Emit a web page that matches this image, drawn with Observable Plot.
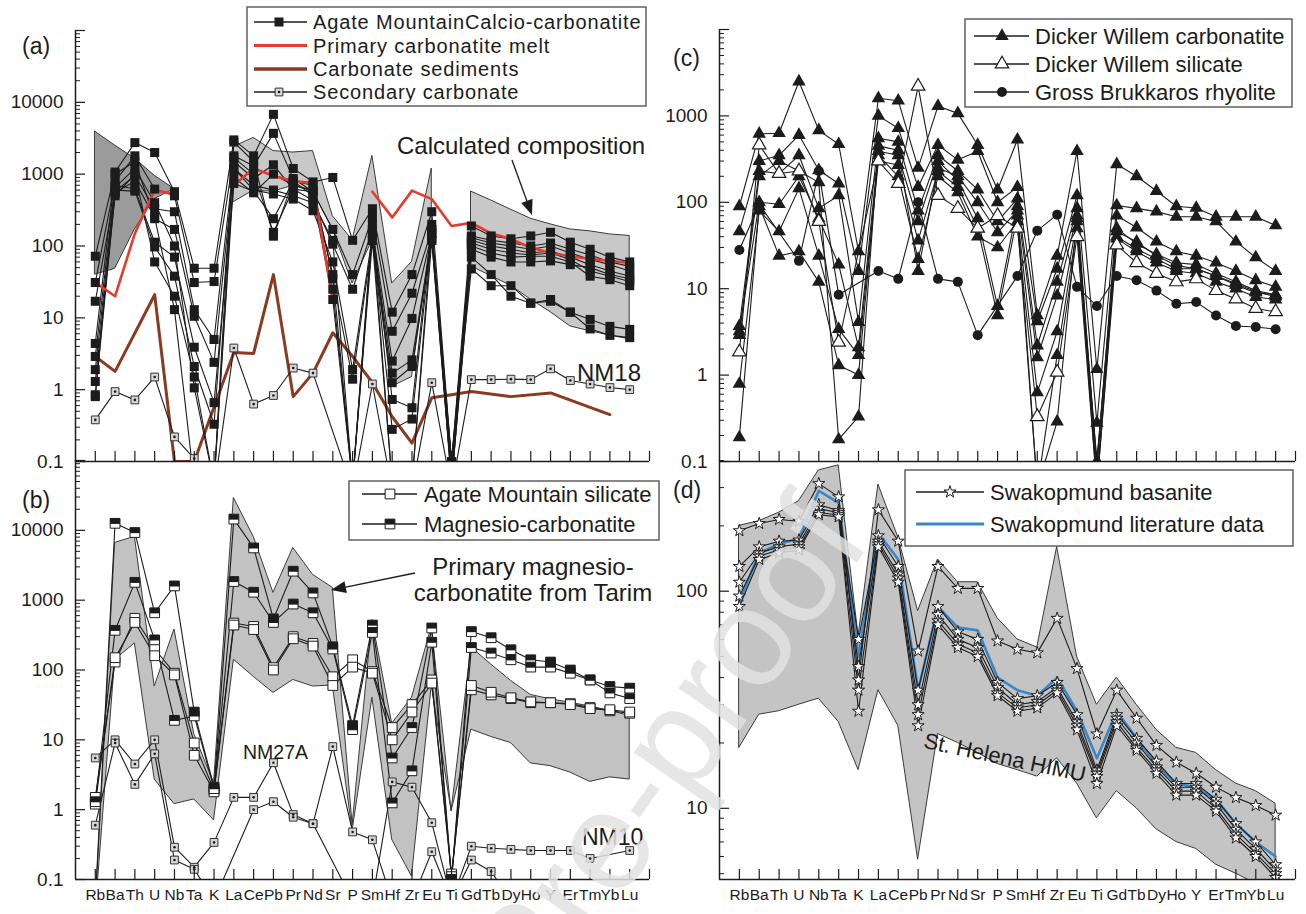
<!DOCTYPE html>
<html>
<head>
<meta charset="utf-8">
<script src="https://cdn.jsdelivr.net/npm/d3@7"></script>
<script src="https://cdn.jsdelivr.net/npm/@observablehq/plot@0.6"></script>
<style>
  html, body { margin: 0; padding: 0; background: #fff; }
  body { position: relative; width: 1306px; height: 914px; overflow: hidden; font-family: "Liberation Sans", Arial, sans-serif; }
  .panel { position: absolute; }
  #overlay { position: absolute; left: 0; top: 0; pointer-events: none; }
</style>
</head>
<body>
<div id="pa" class="panel" style="left:0;top:0"></div>
<div id="pb" class="panel" style="left:0;top:440px"></div>
<div id="pc" class="panel" style="left:640px;top:0"></div>
<div id="pd" class="panel" style="left:640px;top:440px"></div>
<script>
// Trace elements in spider-diagram order
const elements = ["Rb","Ba","Th","U","Nb","Ta","K","La","Ce","Pb","Pr","Nd","Sr","P","Sm","Hf","Zr","Eu","Ti","Gd","Tb","Dy","Ho","Y","Er","Tm","Yb","Lu"];

// ---- (a) Agate Mountain calcio-carbonatite ----
const calcioCarbonatite = [
  [72, 1070, 2750, 2000, 570, 49, 49, 3000, 1800, 6800, 1200, 780, 900, 120, 330, 12, 40, 300, 0.1, 190, 138, 126, 138, 155, 113, 90, 70, 60],
  [31, 800, 1800, 620, 500, 31, 32, 1800, 1300, 3700, 870, 570, 170, 40, 250, 6.5, 22, 170, 0.09, 138, 120, 110, 100, 110, 90, 75, 60, 52],
  [17, 570, 960, 330, 300, 13, 5, 1500, 870, 1350, 620, 430, 106, 25, 170, 2.5, 9.8, 150, 0.08, 130, 110, 100, 90, 100, 80, 65, 55, 45],
  [4.4, 1000, 1500, 240, 170, 10.5, 2.4, 1200, 600, 530, 450, 310, 60, 1.9, 140, 1.7, 2.6, 130, 0.1, 120, 100, 90, 80, 85, 70, 55, 45, 38],
  [2.9, 700, 620, 113, 70, 3.9, 0.66, 740, 580, 240, 800, 700, 35, 1.4, 120, 1.25, 2.1, 120, 0.06, 110, 90, 80, 75, 80, 65, 45, 38, 32],
  [1.9, 600, 580, 97, 38, 2.1, 0.33, 1700, 1000, 155, 620, 570, 25, 0.05, 200, 0.73, 0.56, 200, 0.05, 100, 80, 70, 72, 72, 60, 38, 34, 28],
  [1.3, 500, 1000, 60, 20, 1.5, 0.05, 2800, 1500, 137, 800, 500, 18, 0.05, 150, 0.28, 0.39, 150, 0.05, 90, 70, 60, 60, 62, 55, 50, 40, 35],
  [0.85, 650, 1200, 400, 100, 1.06, 0.05, 1200, 700, 600, 500, 400, 120, 0.05, 170, 0.05, 0.05, 170, 0.1, 48, 28, 28, 16, 18, 12, 9.5, 7.6, 6.9],
  [0.8, 550, 800, 250, 13, 0.05, 0.05, 900, 550, 1000, 700, 600, 40, 0.05, 120, 0.05, 0.05, 120, 0.05, 70, 40, 20, 16, 17, 12, 7, 5.7, 5.3]
];
const secondaryNM18 = [0.38, 0.94, 0.72, 1.5, 0.22, 0.11, 0.04, 3.8, 0.63, 0.83, 2.0, 1.7, null, 0.04, 1.2, 0.04, 0.04, 1.25, 0.04, 1.38, 1.38, 1.4, 1.38, 1.95, 1.34, 1.2, 1.07, 1.0];
const primaryMelt = [31, 20, 150, 600, 520, null, null, 700, 1200, 950, 800, 750, 17, null, 570, 250, 590, 450, 190, 210, 150, 125, 95, 80, 72, 66, 62, 58];
const carbonateSediments = [2.9, 1.8, null, 21, 0.1, 0.1, null, 3.3, 3.2, 40, 0.8, 1.7, 6.2, 2.9, 1.25, 0.42, 0.18, 0.77, 0.85, 0.94, null, 0.8, null, 0.9, null, null, 0.45, null];
const calculatedHigh = [3900, 2500, 1650, 950, 620, null, null, 2400, 3200, 2100, 2000, 2100, 260, 120, 1800, 30, 60, 1200, null, 570, 430, 320, 240, 200, 170, 160, 145, 138];
const calculatedLow  = [40, 48, 170, 450, 620, null, null, 410, 590, 570, 690, 570, 170, 30, 120, 1.1, 1.5, 150, null, 52, 38, 28, 18, 12, 7.6, 6.5, 5.7, 5];

// ---- (b) Agate Mountain silicate and magnesio-carbonatite ----
const magnesioCarbonatite = [
  [0.05, 12600, 9300, 660, 1600, 25, 2.1, 14500, 5600, 540, 2600, 1270, 215, 16, 440, 5.5, 15, 400, 0.1, 355, 290, 195, 140, 130, 100, 72, 58, 55],
  [1.3, 370, 1800, 270, 19, 22, 2.0, 1850, 1300, 480, 880, 660, 200, 14, 345, 1.25, 3.6, 250, 0.1, 210, 175, 140, 110, 110, 90, 72, 47, 39]
];
const agateSilicate = [
  [1.5, 130, 550, 200, 90, 9, 1.9, 470, 420, 108, 300, 240, 80, 140, 95, 15, 32, 72, 0.12, 52, 44, 39, 34, 34, 33, 29, 26, 24],
  [1.2, 150, 480, 160, 85, 6, 1.8, 440, 380, 100, 280, 220, 60, 110, 90, 10, 25, 65, 0.11, 60, 48, 40, 35, 34, 32, 28, 27, 25]
];
const secondaryB = [
  [5.5, 10, 4.5, 10, 0.29, 0.15, 0.34, 1.5, 1.5, 4.7, 0.85, 0.63, 8, 0.48, 0.37, 0.05, 0.05, 0.25, 0.05, 0.19, 0.13, 0.05, null, null, null, null, null, null],
  [0.6, 9, 2.3, 6.3, 0.19, 0.14, 0.05, null, 1.0, 1.3, 0.78, 0.63, null, 0.05, 0.05, 2.5, 2.1, 0.65, 0.05, 0.3, 0.28, 0.27, 0.26, 0.26, 0.26, 0.2, null, 0.26]
];
const tarimHigh = [0.03, 6600, 8100, 58, 380, 12, 2.4, 29000, 8100, 1270, 5600, 2300, 1500, 0.6, 520, 17, 40, 420, 0.95, 210, 120, 70, 44, 38, 34, 30, 26, 22];
const tarimLow  = [0.03, 140, 240, 2.7, 1.2, 1.4, 0.7, 140, 80, 47, 72, 58, 60, 0.5, 40, 0.37, 0.11, 60, 0.95, 14, 11, 9, 4.6, 4.2, 3.4, 2.5, 2.9, 2.7];

// ---- (c) Dicker Willem and Gross Brukkaros ----
const dwCarbonatite = [
  [90, 620, 630, 2500, 680, 470, 27, 1600, 1500, 250, 1300, 1070, 460, 140, 530, 4.9, 24, 390, 1.17, 275, 200, 135, 90, 86, 68, 68, 68, 54],
  [46, 300, 350, 600, 235, 165, 16, 1000, 720, 150, 460, 310, 390, 100, 150, 4.2, 17, 120, 0.28, 92, 85, 78, 68, 68, 60, 35, 23, 16],
  [3.7, 230, 215, 350, 85, 120, 4.1, 550, 500, 80, 350, 230, 140, 60, 110, 2.2, 12, 85, 0.08, 70, 51, 35, 27, 24, 20, 16, 12.5, 10.5],
  [3.2, 100, 95, 200, 65, 19, 2.1, 390, 350, 60, 300, 180, 65, 6.3, 90, 1.6, 8.3, 70, 0.06, 46, 35, 24, 18.5, 17, 14, 11.5, 9.2, 8.1],
  [0.79, 80, 46, 145, 24, 3.4, 1.7, 300, 270, 36, 230, 150, 50, 4.9, 70, 0.63, 3.2, 60, 0.05, 40, 29, 22, 17, 17, 14, 11, 9, 8.5],
  [0.19, 90, 24, 27, 12, 1.3, 1.0, 350, 200, 22, 200, 130, 40, 30, 60, 0.05, 1.7, 50, 0.1, 38, 27, 20, 16, 15, 12, 10, 8, 7.5],
  [2.9, 200, 300, 230, 170, 0.18, 0.33, 450, 400, 16, 250, 200, 100, 45, 80, 0.05, 0.29, 65, 0.1, 50, 33, 25, 20, 19, 15, 12, 9.5, 8.5]
];
const dwSilicate = [
  [1.85, 460, 215, 230, 60, 2.4, null, 300, 165, 2200, 120, 85, 50, 70, 50, 0.33, 1.08, 40, 0.05, 32, 20, 15, 12, 13, 9.5, 7.6, 5.9, 5.4]
];
const gbRhyolite = [
  [28, 95, null, 21, 230, 8.5, null, 16, 13, 100, 13, 12, 2.9, null, 14, 47, 72, 10.5, 6.3, 14, 12.5, 9.5, 6.7, 7, 4.9, 3.7, 3.6, 3.4]
];

// ---- (d) Swakopmund and St. Helena HIMU ----
const swakBasanite = [
  [190, 205, 214, 210, 313, 272, 39, 237, 170, 53, 130, 103, 103, 59, 54, 52, 75, 44, 22, 35, 26, 19.5, 16.3, 14.5, 12.5, 11.2, 10.3, 9.3],
  [130, 160, 170, 172, 250, 235, 60, 180, 130, 35, 85, 65, 60, 38, 32, 33, 38, 27, 15, 27, 21, 16.5, 13, 13, 11, 8.5, 7, 5.5],
  [110, 150, 160, 165, 240, 230, 45, 170, 120, 30, 78, 60, 55, 36, 30, 31, 36, 25, 14.5, 26, 20, 15.5, 12.5, 12.5, 10.5, 8, 6.5, 5.2],
  [95, 145, 155, 160, 230, 225, 35, 165, 115, 27, 73, 57, 52, 34, 29, 30, 35, 24, 14, 25, 19, 15, 12, 12, 10, 7.6, 6.2, 5],
  [85, 140, 150, 155, 225, 220, 28, 160, 110, 24, 70, 55, 50, 33, 28, 29, 34, 23, 13, 24, 18.5, 14.5, 11.5, 11.5, 9.7, 7.3, 6, 4.8]
];
const swakLiterature = [90, 150, 165, 175, 290, 255, 50, 185, 140, 35, 85, 68, 66, 40, 35, 33, 40, 28, 17, 28, 21, 16, 13, 12.5, 11, 8.5, 7, 6];
const helenaHigh = [200, 210, 230, 260, 360, 380, 62, 310, 177, 81, 140, 110, 110, 75, 60, 55, 160, 50, 30, 40, 30, 23, 19, 18, 15, 13, 12, 10.5];
const helenaLow  = [19, 27, 28, 30, 32, 25, 15, 35, 24, 5.8, 22, 20, 18, 16, 15, 14, 17, 13, 9, 12, 10, 8, 7, 6.5, 5.5, 5, 4.5, 4.3];

// Axis labels
const yLabelsAB = [0.1, 1, 10, 100, 1000, 10000];
const yLabelsC = [0.1, 1, 10, 100, 1000];
const yLabelsD = [10, 100];

const FONT = '"Liberation Sans", Arial, sans-serif';
const INK = "#1c1c1c";

// long-format rows; missing values are skipped (line joins neighbours) or kept as gaps
function rows(list, gaps = false) {
  const out = [];
  list.forEach((vals, s) => vals.forEach((v, i) => {
    if (v == null) { if (gaps) out.push({s, i, v: NaN}); return; }
    out.push({s, i, v});
  }));
  return out;
}
// band rows split into separate pieces wherever the field is missing
function bandRows(hi, lo) {
  const out = []; let piece = 0, prevNull = false;
  hi.forEach((h, i) => {
    if (h == null || lo[i] == null) { if (!prevNull) piece++; prevNull = true; return; }
    prevNull = false;
    out.push({i, hi: h, lo: lo[i], piece});
  });
  return out;
}
function logTicks(lo, hi) {
  const major = [], minor = [];
  for (let e = Math.floor(Math.log10(lo)) - 1; e <= Math.ceil(Math.log10(hi)); e++) {
    for (let k = 1; k <= 9; k++) {
      const v = +(k * Math.pow(10, e)).toPrecision(3);
      if (v < lo * 0.999 || v > hi * 1.001) continue;
      (k === 1 ? major : minor).push(v);
    }
  }
  return {major, minor};
}

// custom marker: black upper half of a square
const halfTop = {draw(ctx, size) { const w = Math.sqrt(size) / 2; ctx.moveTo(-w, -w); ctx.lineTo(w, -w); ctx.lineTo(w, 0.6); ctx.lineTo(-w, 0.6); ctx.closePath(); }};

function panel(id, cfg) {
  const {width, height, mT, mB, mL, mR, domain, yLabels, xLabels, marks} = cfg;
  const fw = width - mL - mR, fh = height - mT - mB;
  const {major, minor} = logTicks(domain[0], domain[1]);
  const chart = Plot.plot({
    width, height, marginTop: mT, marginBottom: mB, marginLeft: mL, marginRight: mR,
    style: {background: "transparent", overflow: "visible", fontFamily: FONT, color: INK},
    x: {type: "linear", domain: [-1, elements.length], axis: null},
    y: {type: "log", domain, axis: null},
    marks: [
      ...marks,
      Plot.ruleY([domain[0]], {stroke: INK, strokeWidth: 1.5}),
      Plot.ruleX([-1], {stroke: INK, strokeWidth: 1.5}),
      Plot.tickX(d3.range(elements.length + 1), {x: d => d, insetTop: fh - 10, stroke: INK, strokeWidth: 1.2}),
      Plot.tickY(major, {y: d => d, insetRight: fw - 10, stroke: INK, strokeWidth: 1.2}),
      Plot.tickY(minor, {y: d => d, insetRight: fw - 5, stroke: INK, strokeWidth: 1}),
      Plot.axisY(yLabels, {tickSize: 0, tickPadding: 12, tickFormat: d => String(d), fontSize: 19, label: null}),
      xLabels ? Plot.axisX(d3.range(elements.length), {tickSize: 0, tickPadding: 9, tickFormat: i => elements[i], fontSize: 15.5, label: null}) : null
    ]
  });
  document.getElementById(id).append(chart);
}

const XY = {x: "i", y: "v"};
const LINE = {...XY, z: "s", stroke: INK, strokeWidth: 1.1, clip: true};

// (a)
const bandA = bandRows(calculatedHigh, calculatedLow);
panel("pa", {
  width: 660, height: 470, mT: 30, mB: 9, mL: 75, mR: 11, domain: [0.1, 1e5], yLabels: yLabelsAB,
  marks: [
    Plot.areaY(bandA.filter(d => d.i <= 4), {x: "i", y1: "lo", y2: "hi", z: "piece", fill: "#9b9b9b", stroke: "#3a3a3a", strokeWidth: 1, clip: true}),
    Plot.areaY(bandA.filter(d => d.i >= 7), {x: "i", y1: "lo", y2: "hi", z: "piece", fill: "#c8c8c8", stroke: "#3a3a3a", strokeWidth: 1, clip: true}),
    Plot.line(rows([carbonateSediments]), {...XY, stroke: "#8b3a20", strokeWidth: 3, clip: true}),
    Plot.line(rows(calcioCarbonatite), LINE),
    Plot.line(rows([secondaryNM18]), LINE),
    Plot.line(rows([primaryMelt], true), {...XY, stroke: "#e8392e", strokeWidth: 2.6, clip: true}),
    Plot.dot(rows(calcioCarbonatite), {...XY, symbol: "square", r: 5.1, fill: INK, clip: true}),
    Plot.dot(rows([secondaryNM18]), {...XY, symbol: "square", r: 4.4, fill: "#d6d6d6", stroke: "#333", strokeWidth: 1, clip: true}),
    Plot.dot(rows([secondaryNM18]), {...XY, r: 1.3, fill: INK, clip: true})
  ]
});

// (b)
panel("pb", {
  width: 660, height: 474, mT: 20, mB: 35, mL: 75, mR: 11, domain: [0.1, 1e5], yLabels: yLabelsAB, xLabels: true,
  marks: [
    Plot.areaY(bandRows(tarimHigh, tarimLow), {x: "i", y1: "lo", y2: "hi", z: "piece", fill: "#c2c2c2", stroke: "#3a3a3a", strokeWidth: 1, clip: true}),
    Plot.line(rows(agateSilicate), LINE),
    Plot.line(rows(magnesioCarbonatite), LINE),
    Plot.line(rows(secondaryB), LINE),
    Plot.dot(rows(agateSilicate), {...XY, symbol: "square", r: 5.5, fill: "white", stroke: INK, strokeWidth: 1, clip: true}),
    Plot.dot(rows(magnesioCarbonatite), {...XY, symbol: "square", r: 5.5, fill: "white", stroke: INK, strokeWidth: 1, clip: true}),
    Plot.dot(rows(magnesioCarbonatite), {...XY, symbol: halfTop, r: 5.5, fill: INK, clip: true}),
    Plot.dot(rows(secondaryB), {...XY, symbol: "square", r: 4.4, fill: "#d6d6d6", stroke: "#333", strokeWidth: 1, clip: true}),
    Plot.dot(rows(secondaryB), {...XY, r: 1.3, fill: INK, clip: true})
  ]
});

// (c)
panel("pc", {
  width: 666, height: 470, mT: 29, mB: 9, mL: 79, mR: 11, domain: [0.1, 1e4], yLabels: yLabelsC,
  marks: [
    Plot.line(rows(dwCarbonatite), LINE),
    Plot.line(rows(dwSilicate), LINE),
    Plot.line(rows(gbRhyolite), LINE),
    Plot.dot(rows(dwCarbonatite), {...XY, symbol: "triangle", r: 5, fill: INK, clip: true}),
    Plot.dot(rows(dwSilicate), {...XY, symbol: "triangle", r: 5, fill: "white", stroke: INK, strokeWidth: 1.2, clip: true}),
    Plot.dot(rows(gbRhyolite), {...XY, r: 5, fill: INK, clip: true})
  ]
});

// (d)
panel("pd", {
  width: 666, height: 474, mT: 20, mB: 35, mL: 79, mR: 11, domain: [4.7, 400], yLabels: yLabelsD, xLabels: true,
  marks: [
    Plot.areaY(bandRows(helenaHigh, helenaLow), {x: "i", y1: "lo", y2: "hi", z: "piece", fill: "#c4c4c4", stroke: "#3a3a3a", strokeWidth: 1, clip: true}),
    Plot.line(rows([swakLiterature]), {...XY, stroke: "#3a87c8", strokeWidth: 2.6, clip: true}),
    Plot.line(rows(swakBasanite), LINE),
    Plot.dot(rows(swakBasanite), {...XY, symbol: "star", r: 3.8, fill: "white", stroke: INK, strokeWidth: 1, clip: true})
  ]
});

// ---- legends, annotations and watermark ----
const ov = d3.select("body").append("svg").attr("id", "overlay").attr("width", 1306).attr("height", 914)
  .style("font-family", FONT);

function label(x, y, str, size = 22, anchor = "start", spacing = 0) {
  ov.append("text").attr("x", x).attr("y", y).attr("dy", "0.36em").attr("font-size", size)
    .attr("letter-spacing", spacing).attr("fill", INK).attr("text-anchor", anchor).text(str);
}
function arrow(x1, y1, x2, y2) {
  const a = Math.atan2(y2 - y1, x2 - x1), L = 15, W = 6;
  const bx = x2 - L * Math.cos(a), by = y2 - L * Math.sin(a);
  ov.append("line").attr("x1", x1).attr("y1", y1).attr("x2", bx).attr("y2", by).attr("stroke", INK).attr("stroke-width", 1.3);
  ov.append("path").attr("d", `M${x2},${y2}L${bx - W * Math.sin(a)},${by + W * Math.cos(a)}L${bx + W * Math.sin(a)},${by - W * Math.cos(a)}Z`).attr("fill", INK);
}
function marker(kind, cx, cy) {
  const g = ov.append("g").attr("transform", `translate(${cx},${cy})`);
  const sym = (t, r) => d3.symbol(t, Math.PI * r * r)();
  if (kind === "sqFilled") g.append("path").attr("d", sym(d3.symbolSquare, 5.1)).attr("fill", INK);
  if (kind === "sqDot") { g.append("path").attr("d", sym(d3.symbolSquare, 4.4)).attr("fill", "#d6d6d6").attr("stroke", "#333"); g.append("circle").attr("r", 1.3).attr("fill", INK); }
  if (kind === "sqOpen") g.append("path").attr("d", sym(d3.symbolSquare, 5.5)).attr("fill", "white").attr("stroke", INK);
  if (kind === "sqHalf") { g.append("path").attr("d", sym(d3.symbolSquare, 5.5)).attr("fill", "white").attr("stroke", INK); g.append("path").attr("d", sym(halfTop, 5.5)).attr("fill", INK); }
  if (kind === "triFilled") g.append("path").attr("d", sym(d3.symbolTriangle, 5)).attr("fill", INK);
  if (kind === "triOpen") g.append("path").attr("d", sym(d3.symbolTriangle, 5)).attr("fill", "white").attr("stroke", INK).attr("stroke-width", 1.2);
  if (kind === "circle") g.append("circle").attr("r", 5).attr("fill", INK);
  if (kind === "star") g.append("path").attr("d", sym(d3.symbolStar, 3.8)).attr("fill", "white").attr("stroke", INK);
}
function legend(box, items, layout) {
  ov.append("rect").attr("x", box[0]).attr("y", box[1]).attr("width", box[2]).attr("height", box[3])
    .attr("fill", "white").attr("stroke", "#555").attr("stroke-width", 1.4);
  items.forEach((it, k) => {
    const y = layout.rows[k];
    ov.append("line").attr("x1", layout.x1).attr("x2", layout.x2).attr("y1", y).attr("y2", y)
      .attr("stroke", it.color || INK).attr("stroke-width", it.width || 1.3);
    if (it.marker) marker(it.marker, layout.mx, y);
    label(layout.tx, y, it.text, layout.size || 22, "start", layout.spacing || 0);
  });
}

legend([247, 7, 399, 99], [
  {text: "Agate MountainCalcio-carbonatite", marker: "sqFilled"},
  {text: "Primary carbonatite melt", color: "#e8392e", width: 3},
  {text: "Carbonate sediments", color: "#8b3a20", width: 3.5},
  {text: "Secondary carbonate", marker: "sqDot"}
], {rows: [22, 45.5, 69, 92], x1: 254, x2: 307, mx: 279, tx: 313, size: 20, spacing: 0.85});

legend([349, 481, 310, 59], [
  {text: "Agate Mountain silicate", marker: "sqOpen"},
  {text: "Magnesio-carbonatite", marker: "sqHalf"}
], {rows: [494, 524], x1: 362, x2: 417, mx: 390, tx: 424});

legend([965, 19, 327, 88], [
  {text: "Dicker Willem carbonatite", marker: "triFilled"},
  {text: "Dicker Willem silicate", marker: "triOpen"},
  {text: "Gross Brukkaros rhyolite", marker: "circle"}
], {rows: [36, 64, 92], x1: 974, x2: 1029, mx: 1002, tx: 1035});

legend([905, 470, 388, 76], [
  {text: "Swakopmund basanite", marker: "star"},
  {text: "Swakopmund literature data", color: "#3a87c8", width: 3}
], {rows: [492, 524], x1: 916, x2: 984, mx: 950, tx: 990});

label(22, 46, "(a)", 23);
label(22, 500, "(b)", 23);
label(673, 58, "(c)", 23);
label(673, 490, "(d)", 23);

label(397, 145, "Calculated composition", 24);
arrow(512, 160, 532, 215);
label(577, 372, "NM18", 24);

label(533, 566, "Primary magnesio-", 24, "middle");
label(533, 592, "carbonatite from Tarim", 24, "middle");
arrow(415, 573, 331, 590);
label(243, 752, "NM27A", 19.5);
label(582, 837, "NM10", 23);

ov.append("text").attr("transform", "translate(1005,757) rotate(12)").attr("text-anchor", "middle").attr("dy", "0.36em")
  .attr("font-size", 22).attr("fill", INK).text("St. Helena HIMU");

// faint diagonal watermark across the lower middle
ov.append("text").attr("transform", "translate(872,541) rotate(-55)").attr("text-anchor", "end")
  .attr("font-size", 140).attr("fill", "#e2e2e2").attr("fill-opacity", 0.85).text("Journal Pre-proof");
</script>
</body>
</html>
